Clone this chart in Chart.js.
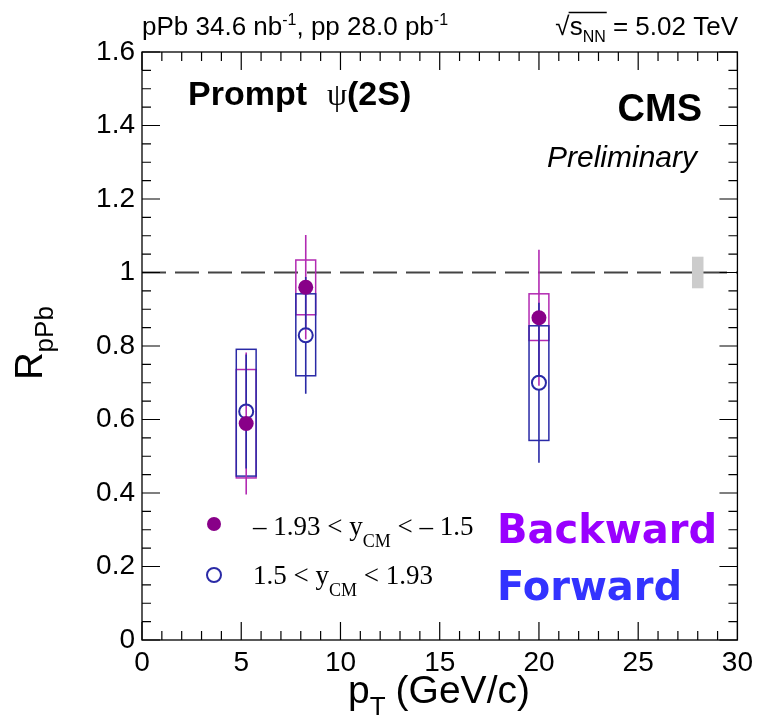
<!DOCTYPE html>
<html>
<head>
<meta charset="utf-8">
<script src="https://cdn.jsdelivr.net/npm/chart.js@4.4.1/dist/chart.umd.min.js"></script>
<style>
  body { margin: 0; background: #fff; }
  #wrap { width: 759px; height: 728px; }
</style>
</head>
<body>
<div id="wrap"><canvas id="rpa" width="759" height="728"></canvas></div>
<script>
// prompt psi(2S) R_pPb vs pT, two rapidity bins
const ptBins = [5.25, 8.25, 20.0];

const rBackward = [0.589, 0.960, 0.877];
const statBackward = [0.193, 0.142, 0.185];
const systBackwardUp = [0.147, 0.074, 0.065];
const systBackwardDown = [0.148, 0.075, 0.062];

const rForward = [0.622, 0.829, 0.700];
const statForward = [0.155, 0.159, 0.218];
const systForwardUp = [0.169, 0.113, 0.155];
const systForwardDown = [0.176, 0.110, 0.157];

const globalUncPt = 28.0;
const globalUnc = 0.043;

const xRange = [0, 30];
const yRange = [0, 1.6];

const colBack = '#880088';
const colBackLine = '#b22ab2';
const colFwd = '#2a2aa6';
const SANS = '"Liberation Sans", Arial, sans-serif';
const SERIF = '"Liberation Serif", "Times New Roman", serif';

function pts(xs, ys) {
    return xs.map((x, i) => ({ x: x, y: ys[i] }));
}

// draw a line of text made of pieces (sub/superscripts)
function richText(ctx, x, y, parts, align) {
    let w = 0;
    parts.forEach(p => { ctx.font = p.font; w += ctx.measureText(p.t).width + (p.gap || 0); });
    let cx = align === 'right' ? x - w : (align === 'center' ? x - w / 2 : x);
    const out = [];
    parts.forEach(p => {
        ctx.font = p.font;
        ctx.fillStyle = p.color || '#000';
        ctx.fillText(p.t, cx, y + (p.dy || 0));
        const pw = ctx.measureText(p.t).width;
        out.push({ x: cx, w: pw });
        cx += pw + (p.gap || 0);
    });
    return out;
}

const errorPlugin = {
    id: 'errors',
    beforeDatasetsDraw(chart) {
        const ctx = chart.ctx;
        const xs = chart.scales.x, ys = chart.scales.y;
        const ca = chart.chartArea;
        ctx.save();

        // dashed line at unity
        ctx.strokeStyle = '#444';
        ctx.lineWidth = 2;
        ctx.setLineDash([24, 9]);
        ctx.beginPath();
        ctx.moveTo(ca.left, ys.getPixelForValue(1));
        ctx.lineTo(ca.right, ys.getPixelForValue(1));
        ctx.stroke();
        ctx.setLineDash([]);

        // global uncertainty box
        ctx.fillStyle = '#cccccc';
        const gx0 = xs.getPixelForValue(globalUncPt - 0.29), gx1 = xs.getPixelForValue(globalUncPt + 0.29);
        const gy0 = ys.getPixelForValue(1 + globalUnc), gy1 = ys.getPixelForValue(1 - globalUnc);
        ctx.fillRect(gx0, gy0, gx1 - gx0, gy1 - gy0);

        // syst boxes, backward under forward
        ctx.lineWidth = 1.5;
        const box = (vals, up, dn, col) => {
            ctx.strokeStyle = col;
            ptBins.forEach((pt, i) => {
                const x0 = xs.getPixelForValue(pt - 0.5), x1 = xs.getPixelForValue(pt + 0.5);
                const y0 = ys.getPixelForValue(vals[i] + up[i]), y1 = ys.getPixelForValue(vals[i] - dn[i]);
                ctx.strokeRect(x0, y0, x1 - x0, y1 - y0);
            });
        };
        box(rBackward, systBackwardUp, systBackwardDown, colBackLine);
        box(rForward, systForwardUp, systForwardDown, colFwd);

        // stat error bars
        ctx.lineWidth = 1.6;
        ctx.strokeStyle = colBackLine;
        ptBins.forEach((pt, i) => {
            const px = xs.getPixelForValue(pt);
            ctx.beginPath();
            ctx.moveTo(px, ys.getPixelForValue(rBackward[i] + statBackward[i]));
            ctx.lineTo(px, ys.getPixelForValue(rBackward[i] - statBackward[i]));
            ctx.stroke();
        });
        ctx.strokeStyle = colFwd;
        ptBins.forEach((pt, i) => {
            const px = xs.getPixelForValue(pt);
            const pc = ys.getPixelForValue(rForward[i]);
            ctx.beginPath();
            ctx.moveTo(px, ys.getPixelForValue(rForward[i] + statForward[i]));
            ctx.lineTo(px, pc - 7);
            ctx.moveTo(px, pc + 7);
            ctx.lineTo(px, ys.getPixelForValue(rForward[i] - statForward[i]));
            ctx.stroke();
        });
        ctx.restore();
    },
    afterDraw(chart) {
        const ctx = chart.ctx;
        const xs = chart.scales.x, ys = chart.scales.y;
        const ca = chart.chartArea;
        ctx.save();

        // frame
        ctx.strokeStyle = '#000';
        ctx.lineWidth = 1.3;
        ctx.strokeRect(ca.left, ca.top, ca.right - ca.left, ca.bottom - ca.top);

        // ticks on all four sides, pointing inward
        ctx.lineWidth = 1.2;
        ctx.beginPath();
        for (let v = xRange[0]; v <= xRange[1]; v += 1) {
            const px = xs.getPixelForValue(v);
            const len = v % 5 === 0 ? 18 : 9;
            ctx.moveTo(px, ca.bottom); ctx.lineTo(px, ca.bottom - len);
            ctx.moveTo(px, ca.top); ctx.lineTo(px, ca.top + len);
        }
        for (let k = 0; k <= 32; k++) {
            const v = k * 0.05;
            const py = ys.getPixelForValue(v);
            const len = k % 4 === 0 ? 18 : 9;
            ctx.moveTo(ca.left, py); ctx.lineTo(ca.left + len, py);
            ctx.moveTo(ca.right, py); ctx.lineTo(ca.right - len, py);
        }
        ctx.stroke();

        ctx.textBaseline = 'alphabetic';

        // header
        const hf = '26px ' + SANS, hs = '16px ' + SANS;
        richText(ctx, 142, 35, [
            { t: 'pPb 34.6 nb', font: hf },
            { t: '-1', font: hs, dy: -10 },
            { t: ', pp 28.0 pb', font: hf },
            { t: '-1', font: hs, dy: -10 }
        ], 'left');
        const seg = richText(ctx, 738, 35, [
            { t: '√', font: hf },
            { t: 's', font: hf },
            { t: 'NN', font: hs, dy: 7 },
            { t: ' = 5.02 TeV', font: hf }
        ], 'right');
        ctx.lineWidth = 1.3;
        ctx.beginPath();
        ctx.moveTo(seg[1].x - 1, 12.5);
        ctx.lineTo(seg[2].x + seg[2].w + 1, 12.5);
        ctx.stroke();

        // in-plot labels
        const pf = 'bold 34px ' + SANS;
        richText(ctx, 188, 105, [
            { t: 'Prompt', font: pf, gap: 20 },
            { t: 'ψ', font: '32px ' + SERIF },
            { t: '(2S)', font: pf }
        ], 'left');
        ctx.textAlign = 'right';
        ctx.fillStyle = '#000';
        ctx.font = 'bold 38px ' + SANS;
        ctx.fillText('CMS', 702, 121);
        ctx.font = 'italic 30px ' + SANS;
        ctx.fillText('Preliminary', 697, 167);
        ctx.textAlign = 'left';

        // legend
        ctx.fillStyle = colBack;
        ctx.beginPath();
        ctx.arc(214, 524, 7, 0, Math.PI * 2);
        ctx.fill();
        ctx.strokeStyle = colFwd;
        ctx.lineWidth = 2;
        ctx.beginPath();
        ctx.arc(214, 575, 7, 0, Math.PI * 2);
        ctx.stroke();
        const lf = '27px ' + SERIF, ls = '18px ' + SERIF;
        richText(ctx, 253, 535, [
            { t: '\u2013 1.93 < y', font: lf },
            { t: 'CM', font: ls, dy: 12 },
            { t: ' < \u2013 1.5', font: lf }
        ], 'left');
        richText(ctx, 253, 584, [
            { t: '1.5 < y', font: lf },
            { t: 'CM', font: ls, dy: 12 },
            { t: ' < 1.93', font: lf }
        ], 'left');

        ctx.font = 'bold 40px "DejaVu Sans", sans-serif';
        ctx.fillStyle = '#9900ff';
        ctx.fillText('Backward', 497, 543);
        ctx.fillStyle = '#3333ff';
        ctx.fillText('Forward', 497, 600);

        // axis titles
        ctx.fillStyle = '#000';
        richText(ctx, 439, 703, [
            { t: 'p', font: '39px ' + SANS },
            { t: 'T', font: '26px ' + SANS, dy: 12, gap: 10 },
            { t: '(GeV/c)', font: '39px ' + SANS }
        ], 'center');

        ctx.translate(42, 343);
        ctx.rotate(-Math.PI / 2);
        richText(ctx, 0, 0, [
            { t: 'R', font: '38px ' + SANS },
            { t: 'pPb', font: '26px ' + SANS, dy: 11 }
        ], 'center');
        ctx.restore();
    }
};

new Chart(document.getElementById('rpa'), {
    type: 'scatter',
    data: {
        datasets: [
            {
                label: 'backward',
                data: pts(ptBins, rBackward),
                pointStyle: 'circle',
                pointRadius: 7.5,
                backgroundColor: colBack,
                borderColor: colBack,
                borderWidth: 0
            },
            {
                label: 'forward',
                data: pts(ptBins, rForward),
                pointStyle: 'circle',
                pointRadius: 7,
                backgroundColor: 'rgba(0,0,0,0)',
                borderColor: colFwd,
                borderWidth: 2
            }
        ]
    },
    options: {
        responsive: false,
        animation: false,
        devicePixelRatio: 1,
        layout: { padding: { top: 52, right: 21, left: 0, bottom: 0 } },
        plugins: { legend: { display: false }, tooltip: { enabled: false } },
        scales: {
            x: {
                type: 'linear',
                min: xRange[0],
                max: xRange[1],
                grid: { display: false, drawTicks: false, tickLength: 0 },
                border: { display: false },
                ticks: {
                    stepSize: 5,
                    padding: 6,
                    color: '#000',
                    font: { family: SANS, size: 28 },
                    maxRotation: 0
                },
                afterFit(s) { s.height = 88; }
            },
            y: {
                type: 'linear',
                min: yRange[0],
                max: yRange[1],
                grid: { display: false, drawTicks: false, tickLength: 0 },
                border: { display: false },
                ticks: {
                    stepSize: 0.2,
                    padding: 7,
                    color: '#000',
                    font: { family: SANS, size: 28 },
                    callback: v => String(Math.round(v * 10) / 10)
                },
                afterFit(s) { s.width = 142; }
            }
        }
    },
    plugins: [errorPlugin]
});
</script>
</body>
</html>
